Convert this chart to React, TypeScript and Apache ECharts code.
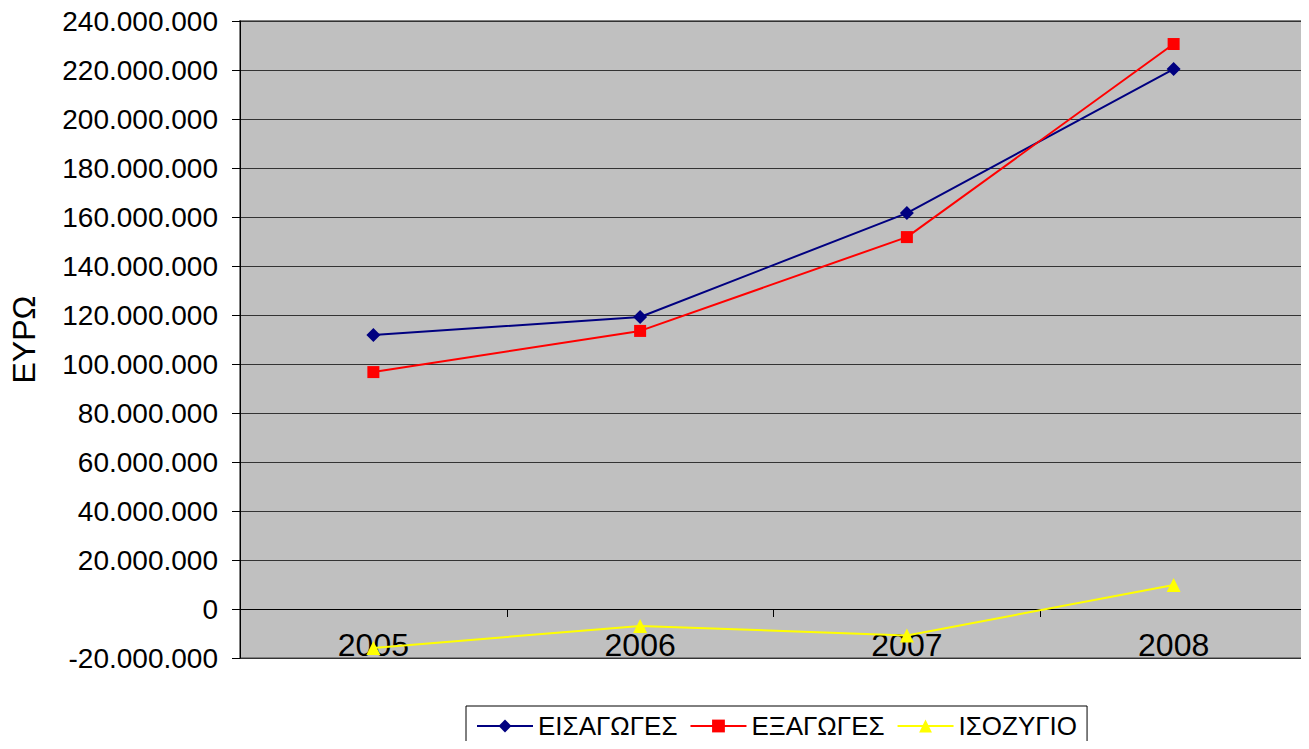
import React, { useEffect, useRef } from "react";
import * as echarts from "echarts";

const categories = ["2005", "2006", "2007", "2008"];
const imports = [111800000, 119200000, 161600000, 220400000];
const exportsData = [96700000, 113500000, 151800000, 230600000];
const balance = [-15900000, -6900000, -10800000, 9800000];
const seriesNames = ["ΕΙΣΑΓΩΓΕΣ", "ΕΞΑΓΩΓΕΣ", "ΙΣΟΖΥΓΙΟ"];

const fmt = (v: number) => {
  const neg = v < 0;
  const s = Math.abs(Math.round(v)).toString().replace(/\B(?=(\d{3})+(?!\d))/g, ".");
  return (neg ? "-" : "") + s;
};

export default function App() {
  const ref = useRef<HTMLDivElement>(null);
  useEffect(() => {
    if (!ref.current) return;
    const chart = echarts.init(ref.current, undefined, { renderer: "svg" });
    const font = "Liberation Sans, Arial, sans-serif";
    chart.setOption({
      animation: false,
      textStyle: { fontFamily: font },
      grid: {
        left: 240,
        top: 21,
        right: 2,
        bottom: 91,
        show: true,
        backgroundColor: "#C0C0C0",
        borderColor: "#808080",
        borderWidth: 2,
      },
      legend: {
        bottom: -20,
        left: 466,
        data: seriesNames,
        itemWidth: 56,
        itemHeight: 16,
        itemGap: 12,
        padding: [7, 10, 30, 10],
        borderColor: "#000",
        borderWidth: 1,
        textStyle: { fontSize: 26, color: "#000", fontFamily: font },
      },
      xAxis: {
        type: "category",
        data: categories,
        boundaryGap: true,
        axisLine: { onZero: true, lineStyle: { color: "#000", width: 1 } },
        axisTick: { show: true, length: 8, lineStyle: { color: "#000" } },
        axisLabel: { fontSize: 32, color: "#000", margin: -29, fontFamily: font },
        splitLine: { show: false },
      },
      yAxis: {
        type: "value",
        min: -20000000,
        max: 240000000,
        interval: 20000000,
        name: "ΕΥΡΩ",
        nameLocation: "middle",
        nameRotate: 90,
        nameGap: 200,
        nameTextStyle: { fontSize: 32, color: "#000", fontFamily: font },
        axisLine: { show: true, lineStyle: { color: "#000", width: 1 } },
        axisTick: { show: true, length: 8, inside: false, lineStyle: { color: "#000" } },
        axisLabel: { fontSize: 28, color: "#000", margin: 22, formatter: fmt, fontFamily: font },
        splitLine: { show: true, lineStyle: { color: "#333", width: 1 } },
      },
      series: [
        {
          name: seriesNames[0],
          type: "line",
          data: imports,
          symbol: "diamond",
          symbolSize: 14,
          itemStyle: { color: "#000080" },
          lineStyle: { color: "#000080", width: 2 },
        },
        {
          name: seriesNames[1],
          type: "line",
          data: exportsData,
          symbol: "rect",
          symbolSize: 12,
          itemStyle: { color: "#FF0000" },
          lineStyle: { color: "#FF0000", width: 2 },
        },
        {
          name: seriesNames[2],
          type: "line",
          data: balance,
          symbol: "triangle",
          symbolSize: 14,
          itemStyle: { color: "#FFFF00" },
          lineStyle: { color: "#FFFF00", width: 2 },
        },
      ],
    });
    return () => chart.dispose();
  }, []);
  return <div ref={ref} style={{ width: 1309, height: 749, margin: -8 }} />;
}
